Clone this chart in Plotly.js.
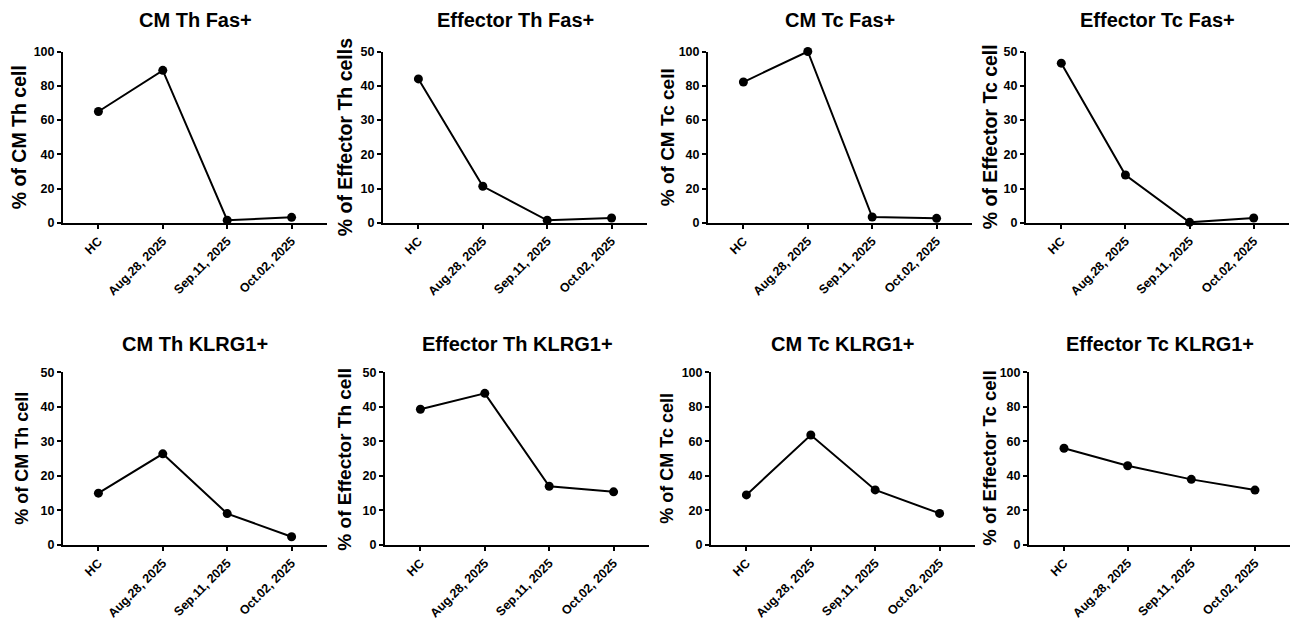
<!DOCTYPE html>
<html>
<head>
<meta charset="utf-8">
<script src="https://cdn.plot.ly/plotly-3.0.1.min.js"></script>
<style>html,body{margin:0;padding:0;background:#fff;}#chart{width:1290px;height:620px;}</style>
</head>
<body>
<div id="chart"></div>
<script>
// ---- data ----
const categories = ['HC', 'Aug.28, 2025', 'Sep.11, 2025', 'Oct.02, 2025'];

const cmThFas    = [65.0, 89.0, 1.6, 3.3];
const effThFas   = [42.0, 10.7, 0.8, 1.45];
const cmTcFas    = [82.2, 100.0, 3.5, 2.7];
const effTcFas   = [46.6, 14.0, 0.2, 1.45];
const cmThKlrg   = [15.0, 26.4, 9.1, 2.4];
const effThKlrg  = [39.3, 43.9, 17.0, 15.4];
const cmTcKlrg   = [29.0, 63.7, 31.9, 18.3];
const effTcKlrg  = [56.0, 45.9, 38.0, 31.8];

const panelTitles = ['CM Th Fas+', 'Effector Th Fas+', 'CM Tc Fas+', 'Effector Tc Fas+',
                     'CM Th KLRG1+', 'Effector Th KLRG1+', 'CM Tc KLRG1+', 'Effector Tc KLRG1+'];
const yTitles = ['% of CM Th cell', '% of Effector Th cells', '% of CM Tc cell', '% of Effector Tc cell',
                 '% of CM Th cell', '% of Effector Th cell', '% of CM Tc cell', '% of Effector Tc cell'];
const yMax  = [100, 50, 100, 50, 50, 50, 100, 100];
const yStep = [20, 10, 20, 10, 10, 10, 20, 20];

const series = [cmThFas, effThFas, cmTcFas, effTcFas, cmThKlrg, effThKlrg, cmTcKlrg, effTcKlrg];

// ---- layout geometry (pixels) ----
const W = 1290, H = 620;
const xDom = [[63, 327], [383, 647], [708, 972], [1026, 1289],
              [63, 327], [385, 649], [711, 975], [1029, 1290]];
const yDomPx = [[51.5, 223], [372.3, 545]];   // top, bottom (pixel rows)
const titleY = [20, 344];
const yTitleX = [19, 345, 667, 990, 22, 345, 667, 990];
const yTitleSize = [19.5, 19.5, 19, 19.5, 18, 19, 18, 18.5];

const FONT = 'Liberation Sans, Arial, Helvetica, sans-serif';

const traces = [];
const layout = {
  width: W, height: H,
  margin: {l: 0, r: 0, t: 0, b: 0, pad: 0},
  paper_bgcolor: '#ffffff', plot_bgcolor: '#ffffff',
  showlegend: false,
  font: {family: FONT, color: '#000000'},
  annotations: []
};

for (let i = 0; i < 8; i++) {
  const n = i + 1;
  const xa = n === 1 ? 'x' : 'x' + n;
  const ya = n === 1 ? 'y' : 'y' + n;
  const row = i < 4 ? 0 : 1;
  traces.push({
    type: 'scatter', mode: 'lines+markers',
    x: categories, y: series[i],
    xaxis: xa, yaxis: ya,
    line: {color: '#000000', width: 2},
    marker: {color: '#000000', size: 9},
    cliponaxis: false,
    hoverinfo: 'x+y'
  });
  const yd = [1 - yDomPx[row][1] / H, 1 - yDomPx[row][0] / H];
  layout['xaxis' + (n === 1 ? '' : n)] = {
    domain: [xDom[i][0] / W, xDom[i][1] / W],
    anchor: ya,
    type: 'category',
    categoryorder: 'array', categoryarray: categories,
    range: [-0.55, 3.55],
    showline: true, linecolor: '#000000', linewidth: 2,
    ticks: 'outside', ticklen: 4, tickwidth: 2, tickcolor: '#000000',
    tickangle: -45,
    tickfont: {family: FONT, size: 12.5, weight: 700, color: '#000000'},
    showgrid: false, zeroline: false, fixedrange: true
  };
  layout['yaxis' + (n === 1 ? '' : n)] = {
    domain: yd,
    anchor: xa,
    range: [0, yMax[i]], dtick: yStep[i], tick0: 0,
    showline: true, linecolor: '#000000', linewidth: 2,
    ticks: 'outside', ticklen: 4, tickwidth: 2, tickcolor: '#000000',
    tickfont: {family: FONT, size: 12.5, weight: 700, color: '#000000'},
    showgrid: false, zeroline: false, fixedrange: true
  };
  // panel title
  layout.annotations.push({
    text: panelTitles[i], showarrow: false,
    xref: 'paper', yref: 'paper',
    x: ((xDom[i][0] + xDom[i][1]) / 2) / W, y: 1 - titleY[row] / H,
    xanchor: 'center', yanchor: 'middle',
    font: {family: FONT, size: 20, weight: 700, color: '#000000'}
  });
  // y axis title
  layout.annotations.push({
    text: yTitles[i], showarrow: false, textangle: -90,
    xref: 'paper', yref: 'paper',
    x: yTitleX[i] / W, y: (yd[0] + yd[1]) / 2,
    xanchor: 'center', yanchor: 'middle',
    font: {family: FONT, size: yTitleSize[i], weight: 700, color: '#000000'}
  });
}

Plotly.newPlot('chart', traces, layout, {displayModeBar: false, staticPlot: true});
</script>
</body>
</html>
